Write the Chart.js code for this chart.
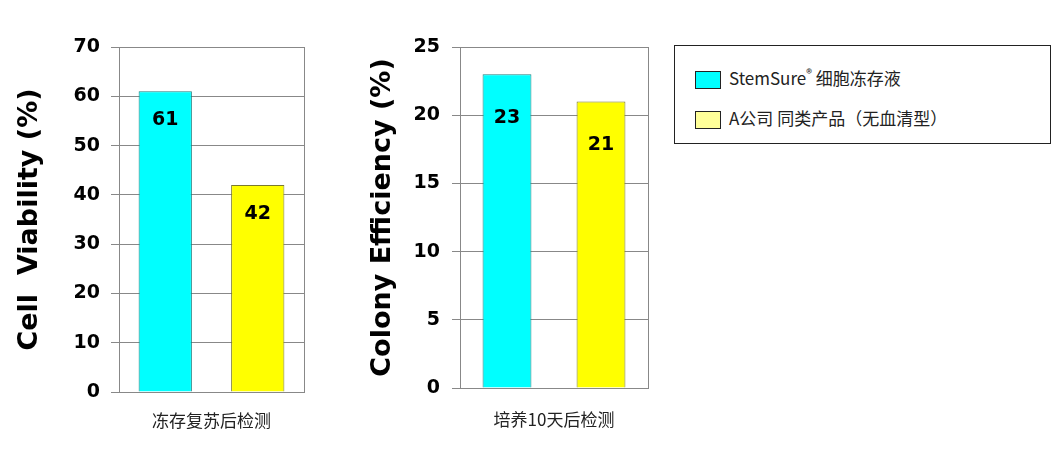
<!DOCTYPE html>
<html>
<head>
<meta charset="utf-8">
<script src="https://cdn.jsdelivr.net/npm/chart.js@4/dist/chart.umd.min.js"></script>
<style>
  body{margin:0;background:#fff;width:1053px;height:462px;position:relative;overflow:hidden;}
  .box{position:absolute;top:0;height:462px;}
  #legend{position:absolute;left:674px;top:45px;width:377px;height:99px;border:1px solid #222;box-sizing:border-box;
    font-family:"Noto Sans CJK SC","Noto Sans",sans-serif;font-size:17px;color:#222;}
  .item{position:absolute;left:20px;height:20px;line-height:20px;}
  .sw{display:inline-block;width:26px;height:18px;border:1px solid #222;box-sizing:border-box;vertical-align:middle;margin-right:8px;}
</style>
</head>
<body>
<div class="box" style="left:0;width:330px;"><canvas id="c1"></canvas></div>
<div class="box" style="left:340px;width:330px;"><canvas id="c2"></canvas></div>
<div id="legend"></div>
<script>
// series names and colours
var seriesNames = ['StemSure\u00ae 细胞冻存液', 'A公司 同类产品（无血清型）'];
var barColors = ['#00FFFF', '#FFFF00'];
var barBorders = ['#1f8080', '#7a7a30'];
var legendColors = ['#00FFFF', '#FFFF99'];

// chart 1
var cat1 = ['冻存复苏后检测'];
var viability = [61, 42];
var ticks1 = [0, 10, 20, 30, 40, 50, 60, 70];

// chart 2
var cat2 = ['培养10天后检测'];
var colony = [23, 21];
var ticks2 = [0, 5, 10, 15, 20, 25];

Chart.defaults.animation = false;
Chart.defaults.font.family = 'DejaVu Sans';

var frame = {
  id: 'frame',
  afterDatasetsDraw: function(chart){
    var a = chart.chartArea, ctx = chart.ctx;
    ctx.save();
    ctx.strokeStyle = '#888';
    ctx.lineWidth = 1;
    ctx.strokeRect(Math.round(a.left)+0.5, Math.round(a.top)+0.5, Math.round(a.right-a.left), Math.round(a.bottom-a.top));
    ctx.restore();
  }
};

function valueLabels(offset){
  return {
    id: 'vals',
    afterDatasetsDraw: function(chart){
      var ctx = chart.ctx;
      ctx.save();
      ctx.font = 'bold 19px DejaVu Sans';
      ctx.fillStyle = '#000';
      ctx.textAlign = 'center';
      ctx.textBaseline = 'middle';
      chart.data.datasets.forEach(function(ds, i){
        chart.getDatasetMeta(i).data.forEach(function(bar, j){
          ctx.fillText(ds.data[j], bar.x, bar.y + offset);
        });
      });
      ctx.restore();
    }
  };
}

function makeChart(id, cats, values, tickVals, max, title, o){
  var datasets = values.map(function(v, i){
    return {
      label: seriesNames[i],
      data: [v],
      backgroundColor: barColors[i],
      borderColor: barBorders[i],
      borderWidth: 1,
      categoryPercentage: o.catPct,
      barPercentage: o.barPct
    };
  });
  return new Chart(document.getElementById(id), {
    type: 'bar',
    data: { labels: cats, datasets: datasets },
    options: {
      responsive: true,
      maintainAspectRatio: false,
      layout: { padding: { top: o.top, right: o.right, left: 0, bottom: 0 } },
      plugins: { legend: { display: false }, tooltip: { enabled: false } },
      scales: {
        x: {
          grid: { display: false },
          border: { display: true, color: '#888' },
          ticks: { padding: o.xpad, color: '#222', font: { family: 'Noto Sans CJK SC', size: 17 } },
          afterFit: function(s){ s.height = o.xh; }
        },
        y: {
          min: 0, max: max,
          afterBuildTicks: function(s){ s.ticks = tickVals.map(function(v){ return {value: v}; }); },
          grid: { color: '#888', tickLength: 8, drawTicks: true },
          border: { display: true, color: '#888' },
          ticks: { padding: o.ypad, color: '#000', font: { size: 19, weight: 'bold' } },
          title: { display: true, text: title, color: '#000', padding: { top: o.tpad, bottom: 0 },
                   font: { size: 27, weight: 'bold' } },
          afterFit: function(s){ s.width = o.yw; }
        }
      }
    },
    plugins: [frame, valueLabels(o.lab)]
  });
}

makeChart('c1', cat1, viability, ticks1, 70, 'Cell  Viability (%)',
  { top: 47, right: 26, xh: 70, xpad: 10, yw: 119, ypad: 11, tpad: 14, catPct: 1.0, barPct: 0.576, lab: 29 });
makeChart('c2', cat2, colony, ticks2, 25, 'Colony Efficiency (%)',
  { top: 47, right: 22, xh: 74, xpad: 13, yw: 120, ypad: 12, tpad: 27, catPct: 1.0, barPct: 0.52, lab: 44 });

// legend
var lg = document.getElementById('legend');
seriesNames.forEach(function(n, i){
  var d = document.createElement('div');
  d.className = 'item';
  d.style.top = (i === 0 ? 17 : 62) + 'px';
  d.innerHTML = '<span class="sw" style="background:' + legendColors[i] + '"></span>' + n.replace('\u00ae', '<sup style="font-size:12px">\u00ae</sup>');
  lg.appendChild(d);
});
</script>
</body>
</html>
